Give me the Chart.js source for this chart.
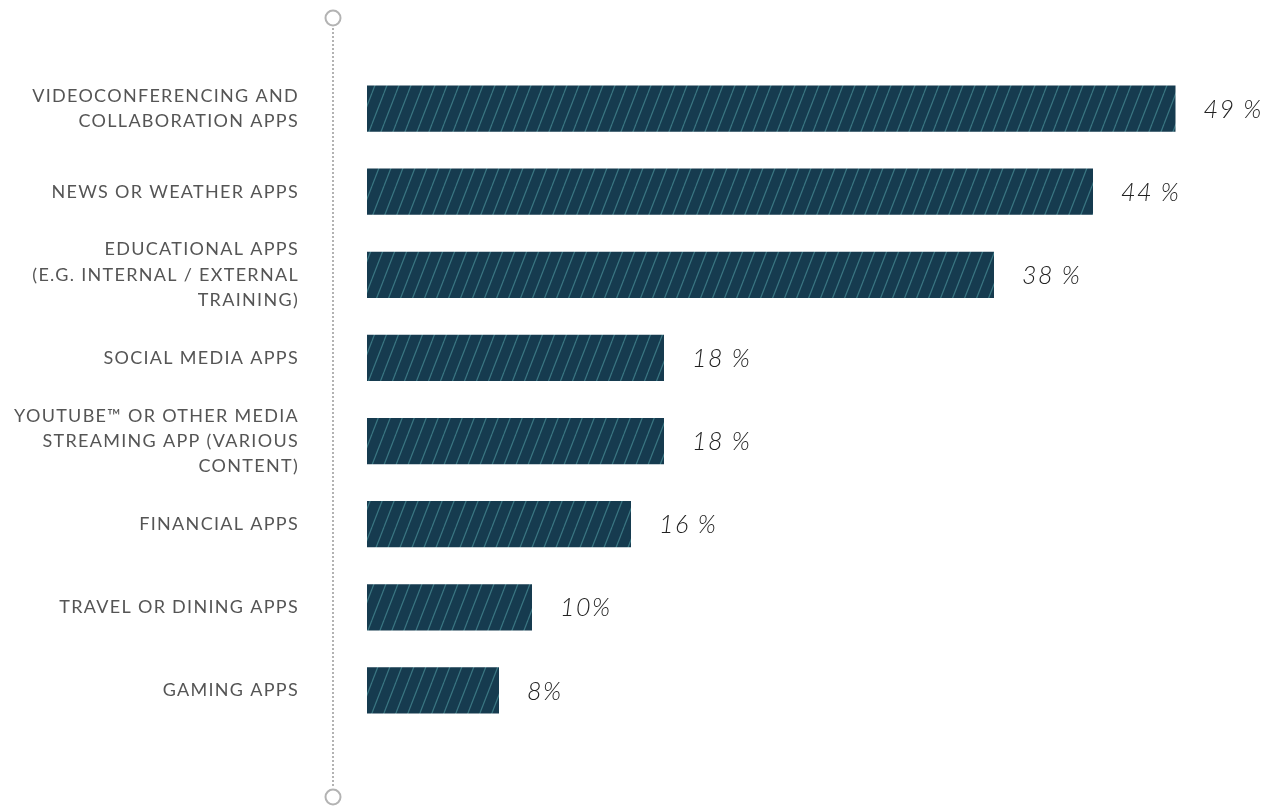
<!DOCTYPE html>
<html>
<head>
<meta charset="utf-8">
<script src="https://cdn.jsdelivr.net/npm/chart.js@4"></script>
<style>
  html, body { margin: 0; padding: 0; background: #fff; }
  #appChart { display: block; }
</style>
</head>
<body>
<canvas id="appChart" width="1276" height="807"></canvas>
<script>
(function () {
  "use strict";

  // app categories, multi-line as printed on the axis
  const categories = [
    ['VIDEOCONFERENCING AND', 'COLLABORATION APPS'],
    'NEWS OR WEATHER APPS',
    ['EDUCATIONAL APPS', '(E.G. INTERNAL / EXTERNAL', 'TRAINING)'],
    'SOCIAL MEDIA APPS',
    ['YOUTUBE\u2122 OR OTHER MEDIA', 'STREAMING APP (VARIOUS', 'CONTENT)'],
    'FINANCIAL APPS',
    'TRAVEL OR DINING APPS',
    'GAMING APPS'
  ];
  const shares = [49, 44, 38, 18, 18, 16, 10, 8];
  const shareLabels = ['49 %', '44 %', '38 %', '18 %', '18 %', '16 %', '10%', '8%'];

  const ctx = document.getElementById('appChart').getContext('2d');

  // diagonal stripe tile (lines lean to the right, tile repeats seamlessly)
  function makeHatch() {
    var tile = document.createElement('canvas');
    tile.width = 12;
    tile.height = 31;
    var t = tile.getContext('2d');
    t.fillStyle = '#163b4f';
    t.fillRect(0, 0, 12, 31);
    t.strokeStyle = '#3a7682';
    t.lineWidth = 1.2;
    for (var k = -1; k <= 1; k++) {
      t.beginPath();
      t.moveTo(k * 12, 31);
      t.lineTo(k * 12 + 12, 0);
      t.stroke();
    }
    return ctx.createPattern(tile, 'repeat');
  }

  // dotted guide line with open circles at both ends; also widen the tick text
  const guideLine = {
    id: 'guideLine',
    beforeDraw: function (chart) {
      var c = chart.ctx;
      var x = chart.chartArea.left - 34;
      c.save();
      c.strokeStyle = '#b3b3b3';
      c.lineWidth = 2;
      c.setLineDash([2, 2]);
      c.beginPath();
      c.moveTo(x, 28);
      c.lineTo(x, 788);
      c.stroke();
      c.setLineDash([]);
      c.beginPath();
      c.arc(x, 18, 7.5, 0, Math.PI * 2);
      c.stroke();
      c.beginPath();
      c.arc(x, 797, 7.5, 0, Math.PI * 2);
      c.stroke();
      c.restore();
      c.letterSpacing = '1.3px';
    }
  };

  // value text to the right of each bar
  const valueLabels = {
    id: 'valueLabels',
    afterDatasetsDraw: function (chart) {
      var c = chart.ctx;
      var meta = chart.getDatasetMeta(0);
      c.save();
      c.letterSpacing = '1.5px';
      c.font = 'italic 300 25px Lato, "Open Sans", sans-serif';
      c.fillStyle = '#222222';
      c.textAlign = 'left';
      c.textBaseline = 'middle';
      meta.data.forEach(function (bar, i) {
        c.fillText(shareLabels[i], bar.x + 28, bar.y + 1);
      });
      c.restore();
    }
  };

  new Chart(ctx, {
    type: 'bar',
    data: {
      labels: categories,
      datasets: [{
        label: 'Share',
        data: shares,
        backgroundColor: makeHatch(),
        borderWidth: 0,
        barPercentage: 0.555,
        categoryPercentage: 1
      }]
    },
    options: {
      indexAxis: 'y',
      responsive: false,
      animation: false,
      events: [],
      layout: {
        padding: { top: 67, bottom: 75, left: 0, right: 18 }
      },
      plugins: {
        legend: { display: false },
        tooltip: { enabled: false }
      },
      scales: {
        x: {
          display: false,
          min: 0,
          max: 54
        },
        y: {
          grid: { display: false },
          border: { display: false },
          afterFit: function (scale) {
            scale.width = 367;
            scale.paddingTop = 0;
            scale.paddingBottom = 0;
          },
          ticks: {
            padding: 60,
            color: '#555555',
            font: { family: 'Lato, "Open Sans", sans-serif', size: 18, weight: '400', lineHeight: 1.4 }
          }
        }
      }
    },
    plugins: [guideLine, valueLabels]
  });
})();
</script>
</body>
</html>
